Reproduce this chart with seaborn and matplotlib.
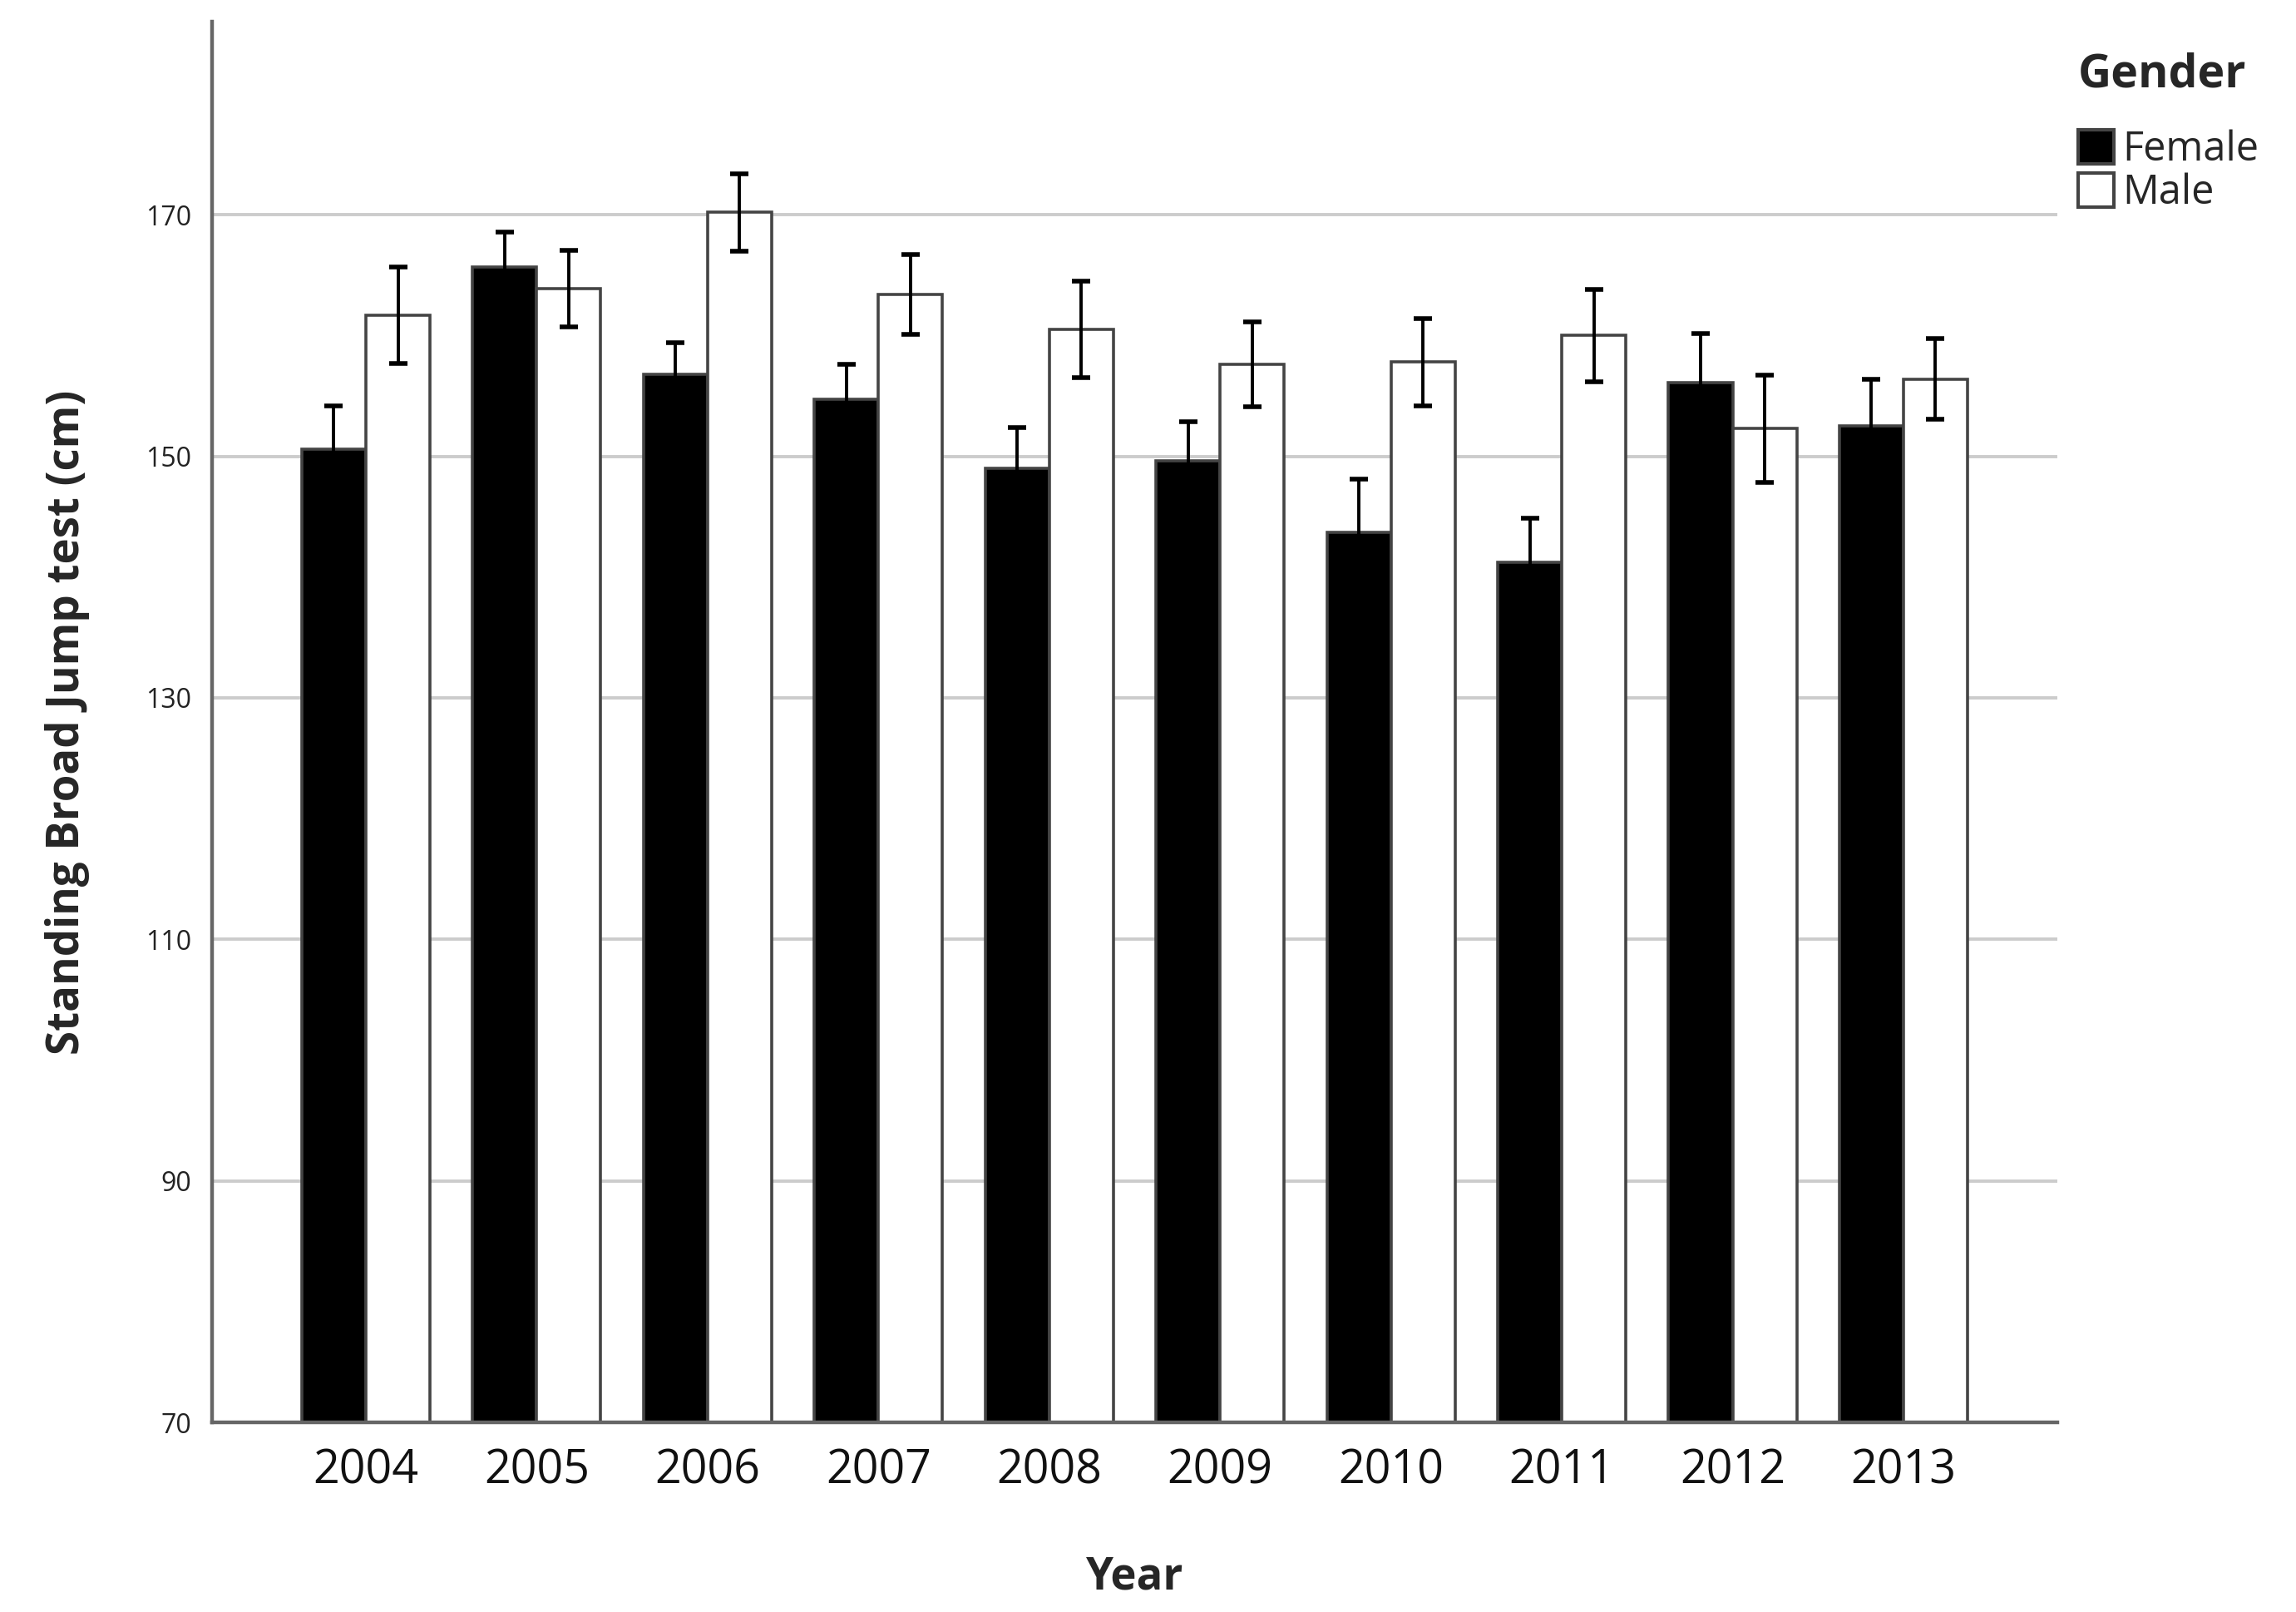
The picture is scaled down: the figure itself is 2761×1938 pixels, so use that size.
import matplotlib
matplotlib.use("Agg")
import matplotlib.pyplot as plt
import seaborn as sns
import pandas as pd
import numpy as np

years = ["2004", "2005", "2006", "2007", "2008", "2009", "2010", "2011", "2012", "2013"]
female_mean = [150.6, 165.7, 156.8, 154.7, 149.0, 149.6, 143.7, 141.2, 156.1, 152.5]
female_err = [3.6, 2.9, 2.6, 2.9, 3.4, 3.3, 4.4, 3.7, 4.1, 3.9]
male_mean = [161.7, 163.9, 170.2, 163.4, 160.5, 157.6, 157.8, 160.0, 152.3, 156.4]
male_err = [4.0, 3.15, 3.2, 3.3, 4.0, 3.5, 3.6, 3.85, 4.45, 3.35]
genders = ["Female", "Male"]
yticks = [70, 90, 110, 130, 150, 170]

df = pd.DataFrame({
    "Year": years * 2,
    "Gender": ["Female"] * len(years) + ["Male"] * len(years),
    "Value": female_mean + male_mean,
    "Err": female_err + male_err,
})

sns.set_theme(style="white")
plt.rcParams['font.family'] = ['Open Sans', 'DejaVu Sans']

fig = plt.figure(figsize=(13.805, 9.69), dpi=200)
ax = fig.add_axes([0.0924, 0.1176, 0.8036, 0.869])

sns.barplot(data=df, x="Year", y="Value", hue="Gender", order=years, hue_order=genders,
            palette={"Female": "black", "Male": "white"}, width=0.75, errorbar=None,
            edgecolor="#444444", linewidth=1.3, ax=ax, zorder=2)

# error bars at bar centers (black, so the part inside the black bars disappears)
for container, g in zip(ax.containers, genders):
    sub = df[df["Gender"] == g].set_index("Year").loc[years]
    xs = [p.get_x() + p.get_width() / 2 for p in container.patches]
    ax.errorbar(xs, sub["Value"].values, yerr=sub["Err"].values, fmt="none",
                ecolor="black", elinewidth=1.4, capsize=4, capthick=2.0, zorder=3)

ax.set_ylim(70, 186)
ax.set_xlim(-0.9, 9.9)
ax.set_yticks(yticks)
ax.set_yticklabels([str(t) for t in yticks], fontsize=11.5, color="#222222")
ax.tick_params(axis="x", labelsize=20, colors="#111111", length=0, pad=11)
ax.tick_params(axis="y", length=0, pad=9)
for t in yticks[1:]:
    ax.axhline(t, color="#cccccc", linewidth=1.4, zorder=0)

for s in ["top", "right"]:
    ax.spines[s].set_visible(False)
for s in ["left", "bottom"]:
    ax.spines[s].set_color("#666666")
    ax.spines[s].set_linewidth(1.6)

ax.set_xlabel("Year", fontsize=19, fontweight="bold", labelpad=26)
ax.set_ylabel("Standing Broad Jump test (cm)", fontsize=19, fontweight="bold", labelpad=24)

handles, labels = ax.get_legend_handles_labels()
if ax.legend_:
    ax.legend_.remove()
leg = fig.legend(handles, labels, title="Gender", loc="upper left",
                 bbox_to_anchor=(0.905, 0.968), frameon=False, fontsize=17.5,
                 title_fontproperties={"weight": "bold", "size": 20},
                 handlelength=0.9, handleheight=0.9, handletextpad=0.2,
                 labelspacing=0.05, borderaxespad=0, borderpad=0)
leg._legend_box.align = "left"
leg._legend_box.sep = 14
for h in leg.legend_handles:
    h.set_edgecolor("#444444")
    h.set_linewidth(1.5)

fig.savefig("out.png", dpi=200, facecolor="white")
